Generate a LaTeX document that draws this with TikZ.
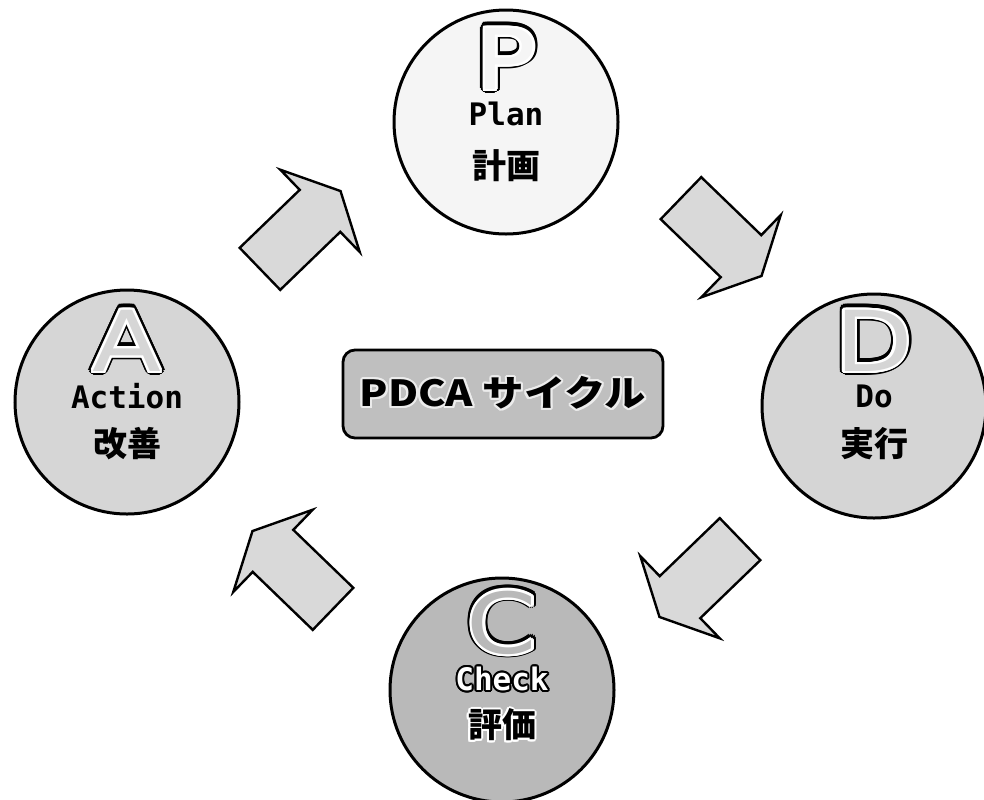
\documentclass[tikz,border=0pt]{standalone}
\usepackage{fontspec}
\usepackage[copies]{contour}
\usetikzlibrary{shapes.arrows}
\newfontfamily\jpfont{Noto Sans CJK JP}
\newfontfamily\widejpfont{Noto Sans CJK JP}[FakeStretch=1.15]
\newfontfamily\latinfont{DejaVu Sans Mono}
\newfontfamily\letterfont{DejaVu Sans}[FakeStretch=1.2]
\contourlength{1pt}

\begin{document}
\begin{tikzpicture}[x=0.5pt,y=-0.5pt,
    phase/.style={circle,draw=black,line width=1.5pt,minimum size=112pt,inner sep=0pt},
    blockarrow/.style={single arrow,draw=black,line width=1.2pt,fill=gray!30,
      minimum height=56pt,inner xsep=0pt,inner ysep=14pt,
      single arrow head extend=14pt,single arrow tip angle=127},
    initial/.style={font=\letterfont\fontsize{42}{42}\selectfont,inner sep=0pt},
    word/.style={font=\latinfont\bfseries\fontsize{15.5}{16}\selectfont,inner sep=0pt},
    kanji/.style={font=\jpfont\bfseries\fontsize{17}{17}\selectfont,inner sep=0pt}]
        \useasboundingbox (0,0) rectangle (984,799);
        \clip (0,0) rectangle (984,799);

        % the four phases
        \node[phase,fill=gray!8]  (p) at (506,122) {};
        \node[phase,fill=gray!33] (d) at (874,406) {};
        \node[phase,fill=gray!55] (c) at (502,690) {};
        \node[phase,fill=gray!32] (a) at (127,402) {};

        % outlined initials
        \node[initial] (p_out) at ([yshift=31pt]p.center) {\contourlength{2.4pt}\contour{black}{P}};
        \node[initial] (p_in)  at ([yshift=31pt]p.center) {\contourlength{1.2pt}\contour{white}{\textcolor{gray!8}{P}}};
        \node[initial] (d_out) at ([yshift=32pt]d.center) {\contourlength{2.4pt}\contour{black}{D}};
        \node[initial] (d_in)  at ([yshift=32pt]d.center) {\contourlength{1.2pt}\contour{white}{\textcolor{gray!33}{D}}};
        \node[initial] (c_out) at ([yshift=33pt]c.center) {\contourlength{2.4pt}\contour{black}{C}};
        \node[initial] (c_in)  at ([yshift=33pt]c.center) {\contourlength{1.2pt}\contour{white}{\textcolor{gray!55}{C}}};
        \node[initial] (a_out) at ([yshift=30pt]a.center) {\contourlength{2.4pt}\contour{black}{A}};
        \node[initial] (a_in)  at ([yshift=30pt]a.center) {\contourlength{1.2pt}\contour{white}{\textcolor{gray!32}{A}}};

        % names
        \node[word]  (p_en) at ([yshift=4pt]p.center)   {Plan};
        \node[kanji] (p_jp) at ([yshift=-22pt]p.center) {計画};
        \node[word]  (d_en) at ([yshift=5pt]d.center)   {Do};
        \node[kanji] (d_jp) at ([yshift=-19pt]d.center) {実行};
        \node[word]  (c_en) at ([yshift=5pt]c.center)   {\contour{black}{\textcolor{white}{Check}}};
        \node[kanji] (c_jp) at ([yshift=-18pt]c.center) {\contour{white}{評価}};
        \node[word]  (a_en) at ([yshift=3pt]a.center)   {Action};
        \node[kanji] (a_jp) at ([yshift=-21pt]a.center) {改善};

        % centre box
        \node[draw=black,line width=1.4pt,rounded corners=6pt,fill=gray!50,
              minimum width=160pt,minimum height=44pt,
              font=\widejpfont\bfseries\fontsize{18}{18}\selectfont] (pdca) at (503,394)
              {\contour{gray!15}{PDCA サイクル}};

        % cycle arrows
        \node[blockarrow,rotate=44]   (a_p) at (295,235) {};
        \node[blockarrow,rotate=-44]  (p_d) at (716,232) {};
        \node[blockarrow,rotate=-136] (d_c) at (705,573) {};
        \node[blockarrow,rotate=136]  (c_a) at (298,575) {};
    \end{tikzpicture}
\end{document}
